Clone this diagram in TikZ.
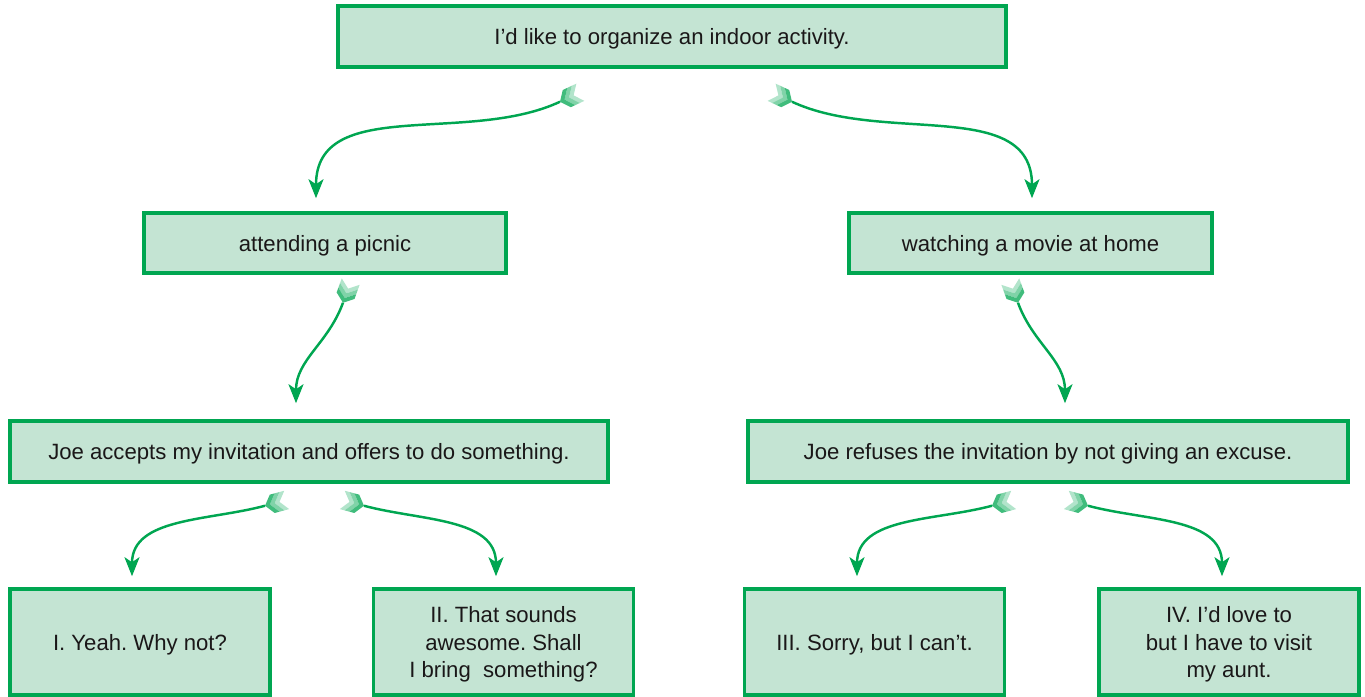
\documentclass[tikz,border=0pt]{standalone}
\usepackage{fontspec}
\setmainfont{Liberation Sans}
\usepackage{tikz}
\usetikzlibrary{arrows.meta}
\definecolor{leaf}{HTML}{00A651}
\definecolor{mint}{HTML}{C4E4D3}
\definecolor{ink}{HTML}{1A1718}
\frenchspacing
\tikzset{box/.style={draw=leaf,line width=2pt,fill=mint,text=ink,align=center,
   inner sep=0pt,text depth=0pt,font=\fontsize{12.6}{15.6}\selectfont},
 small box/.style={box,minimum width=5.2cm,minimum height=2.12cm},
 link/.style={draw=leaf,line width=1.4pt,
   -{Stealth[length=0.38cm,width=0.3cm,inset=0.1cm]}},
 fletch/.pic={
   \foreach \k/\c in {2/30,1/50,0/75} {
     \fill[leaf!\c] (-\k*0.1,0) -- ++(-0.15,0.19) -- ++(-0.1,0) -- ++(0.15,-0.19)
       -- ++(-0.15,-0.19) -- ++(0.1,0) -- cycle;
   }
 },
}

\begin{document}
\begin{tikzpicture}
        \useasboundingbox (0,0) rectangle (27.3,13.94);
        \node[box,minimum width=13.36cm,minimum height=1.22cm] (idea) at (13.44,13.21) {I’d like to organize an indoor activity.};
        \node[box,minimum width=7.24cm,minimum height=1.2cm] (picnic) at (6.5,9.08) {attending a picnic};
        \node[box,minimum width=7.26cm,minimum height=1.2cm] (movie) at (20.61,9.08) {watching a movie at home};
        \node[box,minimum width=11.96cm,minimum height=1.22cm] (accept) at (6.18,4.91) {Joe accepts my invitation and offers to do something.};
        \node[box,minimum width=12cm,minimum height=1.22cm] (refuse) at (20.96,4.91) {Joe refuses the invitation by not giving an excuse.};
        \node[small box] (yeah) at (2.8,1.1) {I. Yeah. Why not?};
        \node[small box] (awesome) at (10.07,1.1) {II. That sounds\\awesome. Shall\\I bring\ \ something?};
        \node[small box] (sorry) at (17.49,1.1) {III. Sorry, but I can’t.};
        \node[small box] (aunt) at (24.58,1.1) {IV. I’d love to\\but I have to visit\\my aunt.};
        % curved links with feathered tails
        \foreach \src/\sx/\sy/\ang/\dst/\hx/\hy in {
            idea/-2.24/-0.66/205/picnic/-0.18/0.26,
            idea/2.4/-0.66/-25/movie/0.03/0.26,
            picnic/0.36/-0.56/-110/accept/-0.26/0.32,
            movie/-0.25/-0.56/-70/refuse/0.34/0.32,
            accept/-0.88/-0.44/195/yeah/-0.16/0.22,
            accept/1.1/-0.44/-15/awesome/-0.15/0.22,
            refuse/-1.12/-0.44/195/sorry/-0.35/0.22,
            refuse/0.8/-0.44/-15/aunt/-0.14/0.22} {
            \draw[link] ([shift={(\sx,\sy)}]\src.south) coordinate (tail)
                to[out=\ang,in=90] ([shift={(\hx,\hy)}]\dst.north);
            \pic[rotate=\ang] at (tail) {fletch};
        }
\end{tikzpicture}
\end{document}
